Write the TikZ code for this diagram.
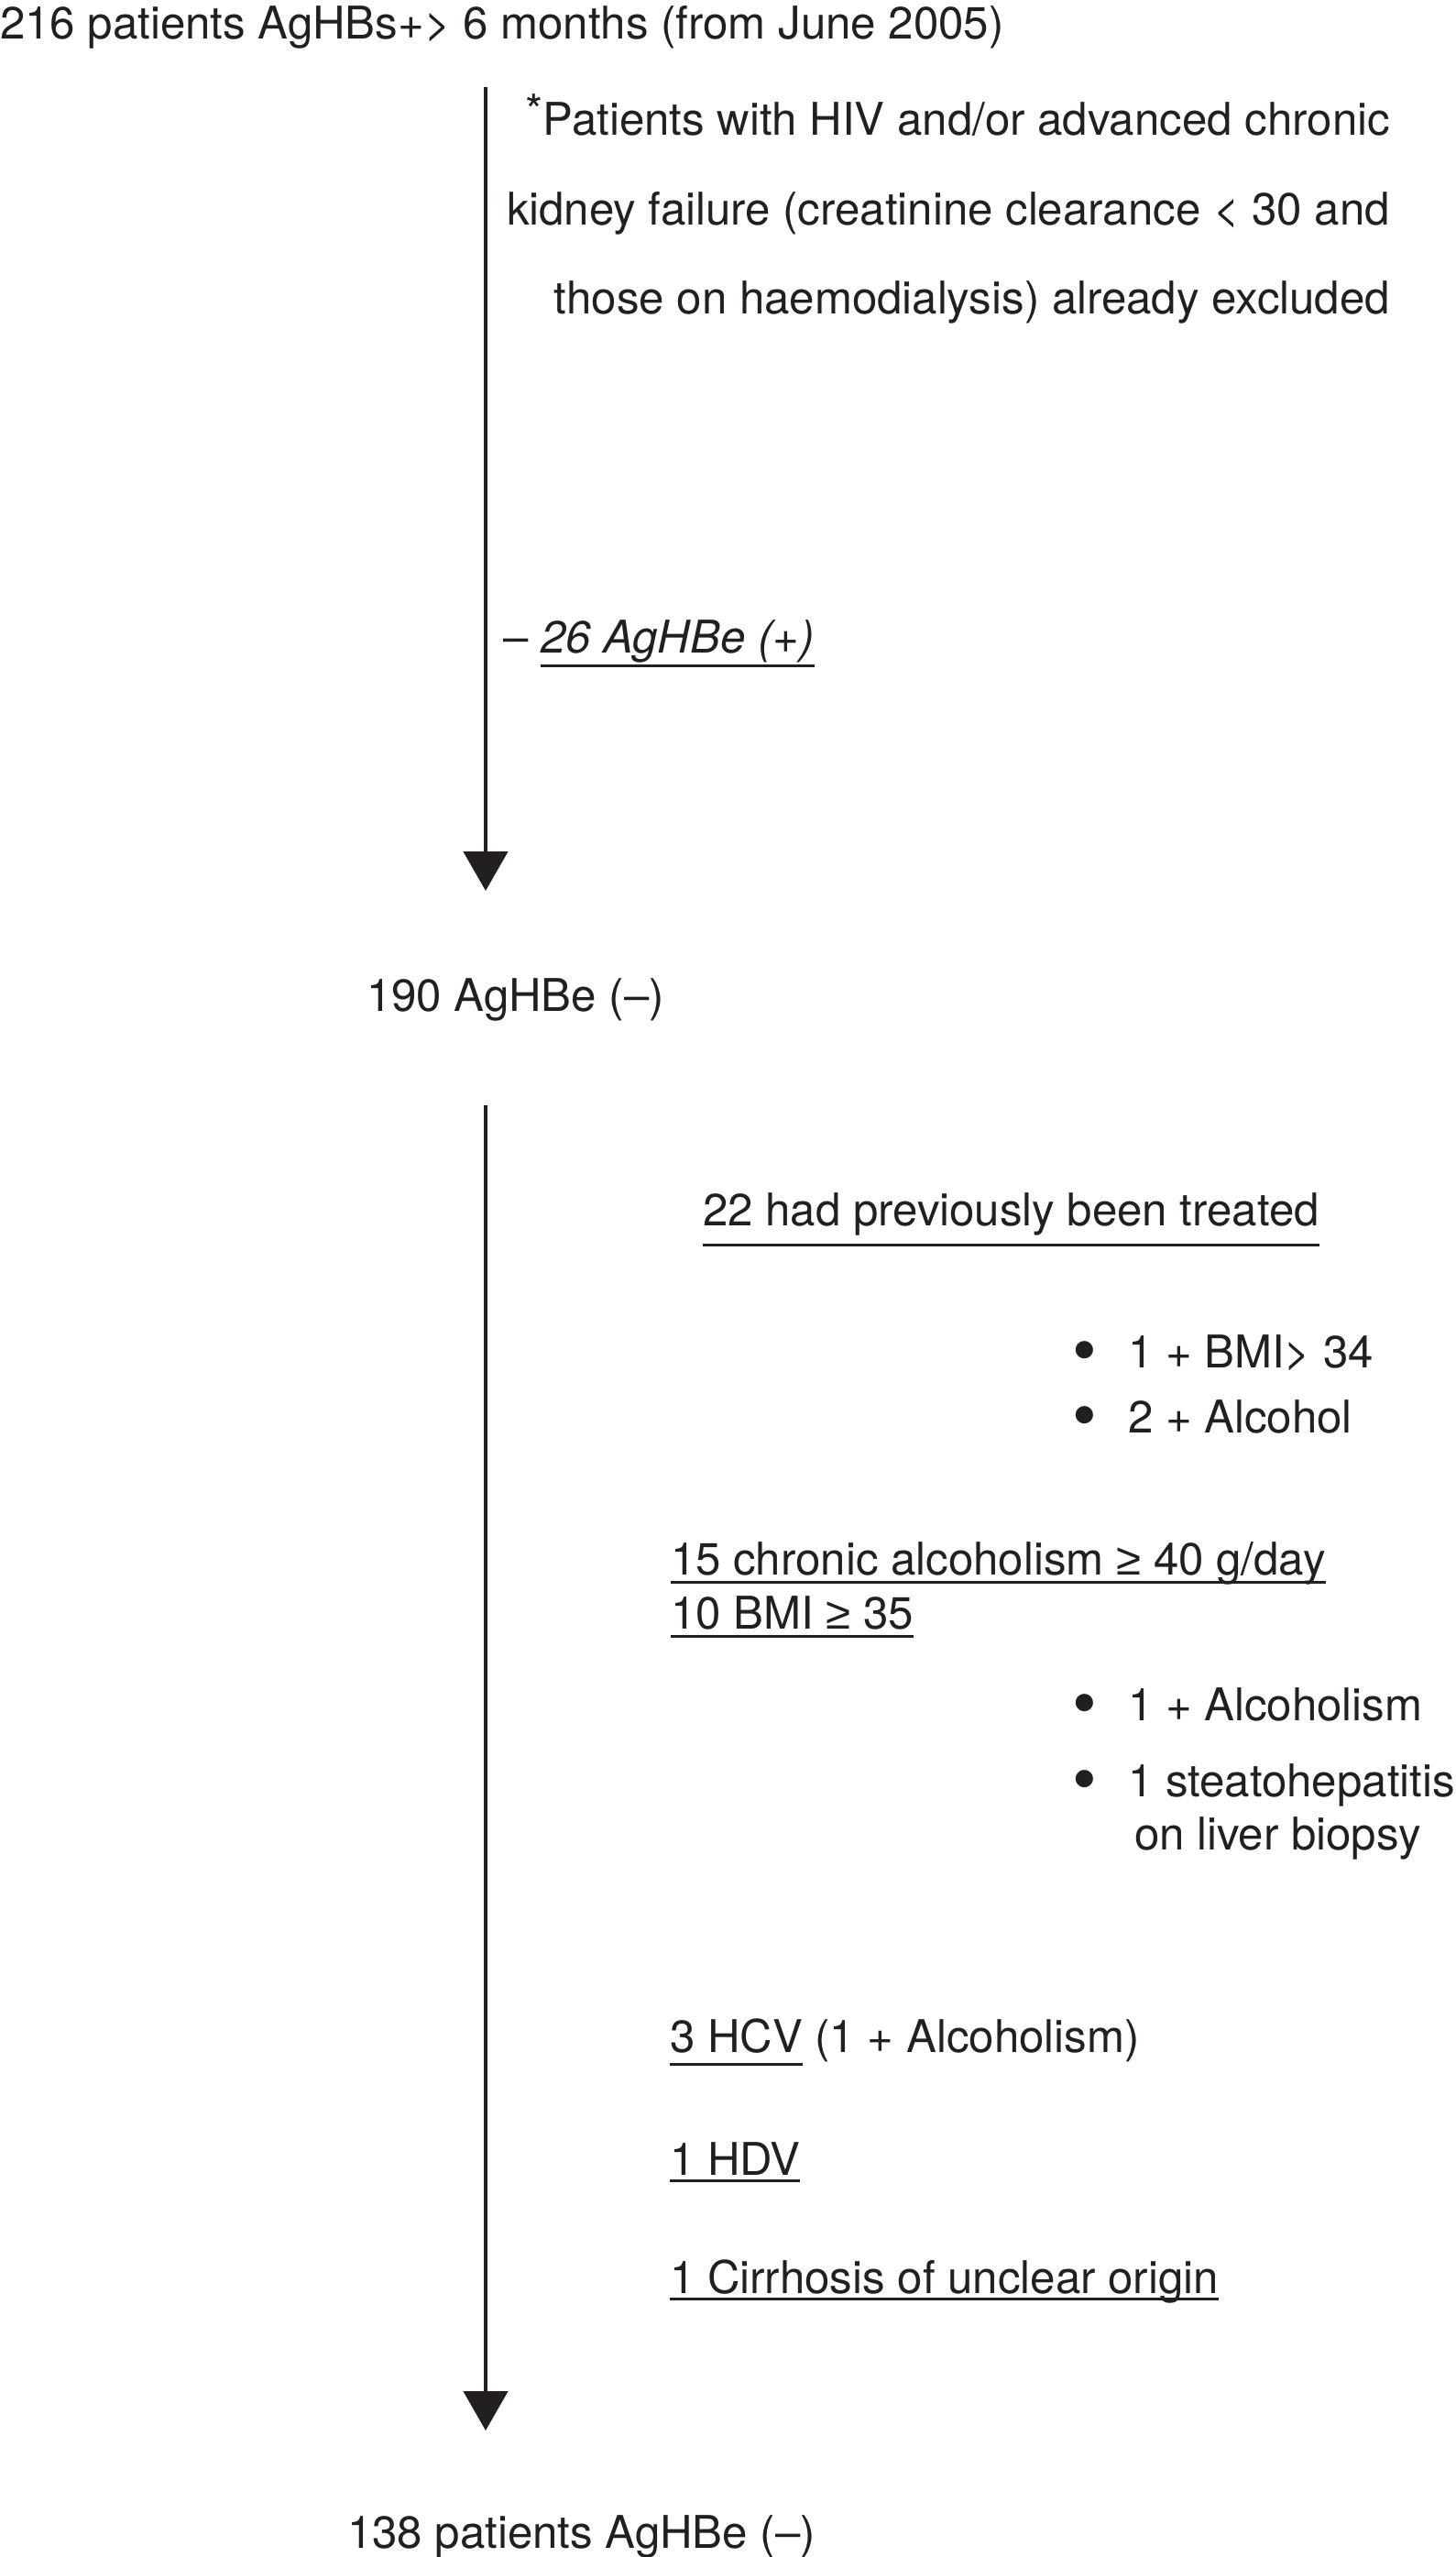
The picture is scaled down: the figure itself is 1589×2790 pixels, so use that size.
\documentclass[tikz,border=0pt]{standalone}
\usepackage{fontspec}
\setmainfont{TeX Gyre Heros}
\newfontfamily\symfnt{Liberation Sans}
\usetikzlibrary{arrows.meta}
\definecolor{ink}{HTML}{231F20}
\tikzset{
  lbl/.style={inner sep=0pt, outer sep=0pt, anchor=base west, text=ink,
    font=\fontsize{24.6pt}{29.5pt}\selectfont},
  rlbl/.style={lbl, anchor=base east},
  uline/.style={draw=ink, line width=1.5pt},
  flow/.style={draw=ink, line width=2.4pt, -{Triangle[width=24pt,length=21.5pt]}}
}
\newcommand{\bul}{\makebox[30.5pt][l]{\raisebox{-3.5pt}{\scalebox{1.55}{•}}}}
\newcommand{\geqsym}{{\symfnt ≥}}
\newcommand{\astmark}{\raisebox{4.5pt}{*}}
\begin{document}
\begin{tikzpicture}[x=0.5pt,y=-0.5pt]
\useasboundingbox (0,0) rectangle (1589,2790);
% title
\node[lbl] (top) at (0,42) {216 patients AgHBs+> 6 months (from June 2005)};
% footnote
\node[rlbl] (f1) at (1517,147) {\astmark Patients with HIV and/or advanced chronic};
\node[rlbl] (f2) at (1517,245) {kidney failure (creatinine clearance < 30 and};
\node[rlbl] (f3) at (1517,342) {those on haemodialysis) already excluded};
% arrow 1
\coordinate (a1s) at (530,95);
\coordinate (a1e) at (530,972);
\draw[flow] (a1s) -- (a1e);
\node[lbl] (dash) at (549,712) {–};
\node[lbl] (hbe) at (590,712) {\itshape 26 AgHBe (+)};
\draw[uline] ([yshift=-7pt]hbe.base west) -- ([yshift=-7pt]hbe.base east);
% middle
\node[lbl] (mid) at (400,1103) {190 AgHBe (–)};
% arrow 2
\coordinate (a2s) at (530,1206);
\coordinate (a2e) at (530,2652);
\draw[flow] (a2s) -- (a2e);
\node[lbl] (trt) at (767,1337) {22 had previously been treated};
\draw[uline] ([yshift=-10.5pt]trt.base west) -- ([yshift=-10.5pt]trt.base east);
\node[lbl] (b1) at (1170,1492) {\bul 1 + BMI> 34};
\node[lbl] (b2) at (1170,1563) {\bul 2 + Alcohol};
\node[lbl] (alc) at (732,1718) {15 chronic alcoholism \geqsym{} 40 g/day};
\draw[uline] ([yshift=-4pt]alc.base west) -- ([yshift=-4pt]alc.base east);
\node[lbl] (bmi) at (732,1777) {10 BMI \geqsym{} 35};
\draw[uline] ([yshift=-4pt]bmi.base west) -- ([yshift=-4pt]bmi.base east);
\node[lbl] (b3) at (1170,1877) {\bul 1 + Alcoholism};
\node[lbl] (b4) at (1170,1960) {\bul 1 steatohepatitis};
\node[lbl] (b4b) at (1238,2018) {on liver biopsy};
\node[lbl] (hcv) at (731,2239) {3 HCV};
\draw[uline] ([yshift=-6.5pt]hcv.base west) -- ([yshift=-6.5pt]hcv.base east);
\node[lbl] (hcvx) at (hcv.base east) {\ (1 + Alcoholism)};
\node[lbl] (hdv) at (731,2373) {1 HDV};
\draw[uline] ([yshift=-3pt]hdv.base west) -- ([yshift=-3pt]hdv.base east);
\node[lbl] (cir) at (731,2502) {1 Cirrhosis of unclear origin};
\draw[uline] ([yshift=-3pt]cir.base west) -- ([yshift=-3pt]cir.base east);
% bottom
\node[lbl] (bot) at (379,2780) {138 patients AgHBe (–)};
\end{tikzpicture}
\end{document}
